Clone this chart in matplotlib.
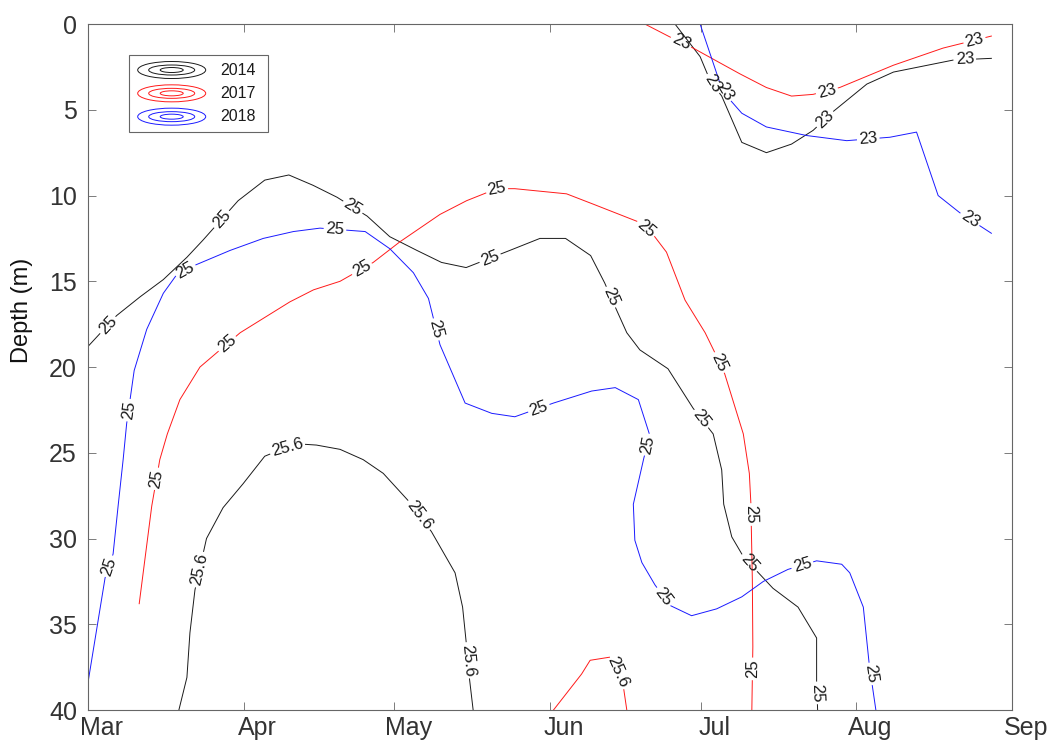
import numpy as np
import matplotlib
matplotlib.use('Agg')
import matplotlib.pyplot as plt
from matplotlib.patches import Ellipse, Rectangle
from matplotlib.transforms import ScaledTranslation

plt.rcParams['font.family'] = ['Liberation Sans', 'DejaVu Sans']

# x: days since 1 March, y: depth (m)
MONTHS = ['Mar', 'Apr', 'May', 'Jun', 'Jul', 'Aug', 'Sep']
MONTH_DAYS = [0, 31, 61, 92, 122, 153, 184]
DEPTH_TICKS = [0, 5, 10, 15, 20, 25, 30, 35, 40]

# ---- 2014 ------------------------------------------------------------
d14_25_day = [0, 5.7, 10.4, 15.0, 19.7, 22.9, 29.9, 35.2, 40.0, 44.8,
              49.6, 55.6, 60.1, 65.5, 70.4, 75.3, 84.0, 90.0, 95.1, 100.1,
              102.9, 105.3, 107.3, 109.9, 115.5, 120.5, 124.5, 126.2, 126.6,
              128.2, 130.4, 133.2, 136.4, 141.4, 145.1, 145.1, 145.3]
d14_25_dep = [18.8, 17.0, 15.9, 14.9, 13.6, 12.6, 10.3, 9.1, 8.8, 9.4,
              10.1, 11.2, 12.4, 13.2, 13.9, 14.2, 13.2, 12.5, 12.5, 13.5,
              15.1, 16.7, 18.0, 19.0, 20.1, 22.4, 23.9, 26.0, 28.0,
              29.9, 31.0, 31.9, 32.9, 34.0, 35.8, 38.4, 40.0]
d14_25_lab = [(3.4, 17.4), (26.3, 11.3), (52.8, 10.65), (80.0, 13.6),
              (104.3, 15.9), (122.2, 23.0), (131.8, 31.4), (145.3, 39.0)]

d14_256_day = [18.1, 19.7, 20.3, 21.3, 23.6, 26.9, 30.9, 35.2, 39.4, 42.9,
               45.5, 50.2, 54.8, 58.8, 63.8, 68.4, 73.1, 74.6, 75.3, 75.9,
               76.7]
d14_256_dep = [40.0, 38.1, 35.5, 33.0, 30.0, 28.2, 26.8, 25.2, 24.7, 24.5,
               24.55, 24.8, 25.4, 26.2, 27.8, 29.6, 32.0, 34.0, 36.0, 38.0,
               40.0]
d14_256_lab = [(22.0, 31.8), (39.6, 24.6), (66.1, 28.6), (75.7, 37.1)]

d14_23_day = [116.9, 121.9, 123.9, 126.2, 130.2, 135.1, 140.1, 144.4, 148.4,
              155.1, 160.4, 172.3, 179.9]
d14_23_dep = [0.0, 1.9, 3.3, 4.2, 6.9, 7.5, 7.0, 6.2, 5.1, 3.5, 2.8, 2.1, 2.0]
d14_23_lab = [(123.9, 3.6), (146.6, 5.5), (174.6, 2.06)]

# ---- 2017 ------------------------------------------------------------
d17_25_day = [10.2, 12.7, 14.3, 15.8, 18.3, 22.3, 30.3, 40.2, 44.9, 50.2,
              56.8, 62.1, 70.1, 75.4, 81.4, 85.0, 95.3, 100.6, 109.3, 112.6,
              115.2, 118.9, 122.9, 124.9, 126.8, 130.5, 131.7, 132.0, 132.3,
              132.4, 132.2]
d17_25_dep = [33.8, 28.1, 25.4, 23.9, 21.9, 20.0, 18.0, 16.2, 15.5, 15.0,
              13.9, 12.7, 11.1, 10.3, 9.6, 9.6, 9.9, 10.5, 11.5, 12.3,
              13.3, 16.1, 18.0, 19.2, 20.4, 23.9, 26.2, 27.9, 32.4,
              36.3, 40.0]
d17_25_lab = [(13.3, 26.5), (27.6, 18.6), (54.5, 14.25), (81.4, 9.6),
              (111.2, 11.9), (126.0, 19.7), (132.0, 28.6), (132.0, 37.6)]

d17_256_day = [92.7, 98.3, 100.0, 104.3, 106.6, 107.3]
d17_256_dep = [40.0, 37.9, 37.1, 36.9, 38.6, 40.0]
d17_256_lab = [(105.4, 37.8)]

d17_23_day = [110.9, 116.2, 120.5, 129.8, 135.1, 140.1, 144.4, 149.7, 160.4,
              170.3, 179.9]
d17_23_dep = [0.0, 0.8, 1.4, 2.9, 3.7, 4.2, 4.1, 3.7, 2.4, 1.4, 0.7]
d17_23_lab = [(118.2, 1.0), (147.1, 3.85), (176.5, 0.9)]

# ---- 2018 ------------------------------------------------------------
d18_25_day = [0.0, 3.4, 5.0, 6.0, 7.0, 7.7, 9.2, 11.7, 15.0, 17.7,
              21.0, 28.3, 34.9, 40.9, 46.2, 55.2, 60.1, 64.8, 67.8, 70.1,
              75.1, 80.4, 85.0, 92.7, 100.3, 105.0, 109.6, 111.9, 110.7, 108.6,
              108.9, 110.3, 112.9, 115.9, 120.2, 125.2, 130.2, 134.5, 139.4,
              145.1, 150.1, 151.7, 154.4, 155.6, 156.9]
d18_25_dep = [38.4, 32.3, 30.9, 28.1, 25.4, 23.3, 20.2, 17.8, 15.7, 14.6,
              14.1, 13.2, 12.5, 12.1, 11.9, 12.1, 13.1, 14.5, 16.0, 18.7,
              22.1, 22.7, 22.9, 22.1, 21.4, 21.2, 21.9, 24.0, 25.3, 28.0,
              30.1, 31.4, 32.7, 33.9, 34.5, 34.1, 33.4, 32.5, 31.8,
              31.3, 31.5, 32.0, 34.0, 37.4, 40.0]
d18_25_lab = [(4.0, 31.6), (7.7, 22.5), (19.3, 14.3), (49.2, 11.9),
              (69.4, 17.8), (89.9, 22.5), (111.1, 24.5), (114.6, 33.4),
              (142.1, 31.4), (155.7, 37.9)]

d18_23_day = [121.9, 125.8, 127.8, 130.2, 135.1, 143.1, 151.1, 159.7, 165.0,
              169.3, 173.6, 179.9]
d18_23_dep = [0.0, 3.4, 4.4, 5.2, 6.0, 6.5, 6.8, 6.6, 6.3, 10.0, 11.0, 12.2]
d18_23_lab = [(127.0, 3.9), (155.4, 6.76), (175.6, 11.4)]

C14 = '#1a1a1a'
C17 = '#ff1a1a'
C18 = '#1a1aff'
TXT = '#1a1a1a'


# ----------------------------------------------------------------------
# Draw one isoline with clabel-style inline labels: the line is broken
# where each label sits and the label follows the local direction.
def contour_line(ax, renderer, days, depths, text, label_at, color):
    pts = ax.transData.transform(np.column_stack([days, depths]))
    seg = np.diff(pts, axis=0)
    seglen = np.hypot(seg[:, 0], seg[:, 1])
    s = np.concatenate([[0.0], np.cumsum(seglen)])

    def point_at(si):
        return np.array([np.interp(si, s, pts[:, 0]),
                         np.interp(si, s, pts[:, 1])])

    cuts = []
    for lx, ly in label_at:
        p = ax.transData.transform((lx, ly))
        best = None
        for i in range(len(seg)):
            if seglen[i] == 0:
                continue
            t = np.clip(np.dot(p - pts[i], seg[i]) / seglen[i] ** 2, 0, 1)
            q = pts[i] + t * seg[i]
            d = np.hypot(*(p - q))
            if best is None or d < best[0]:
                best = (d, s[i] + t * seglen[i])
        s0 = best[1]
        txt = ax.text(0, 0, text, fontsize=12, color=TXT,
                      ha='center', va='center', rotation_mode='anchor')
        w = txt.get_window_extent(renderer).width
        hw = w / 2 + 2.5
        a = point_at(max(s0 - hw, 0))
        b = point_at(min(s0 + hw, s[-1]))
        ang = np.degrees(np.arctan2(b[1] - a[1], b[0] - a[0]))
        if ang > 90:
            ang -= 180
        elif ang <= -90:
            ang += 180
        txt.set_position(ax.transData.inverted().transform(point_at(s0)))
        txt.set_rotation(ang)
        cuts.append((s0 - hw, s0 + hw))

    cuts.sort()
    start = 0.0
    inv = ax.transData.inverted()
    for c0, c1 in cuts + [(s[-1], s[-1])]:
        if c0 > start:
            inner = (s > start) & (s < c0)
            piece = np.vstack([point_at(start)[None, :], pts[inner],
                               point_at(c0)[None, :]])
            xy = inv.transform(piece)
            ax.plot(xy[:, 0], xy[:, 1], color=color, lw=0.7,
                    solid_joinstyle='round')
        start = max(start, c1)


def legend_box(ax, entries):
    ax.add_patch(Rectangle((0.0444, 0.8426), 0.1504, 0.1122,
                           transform=ax.transAxes, fill=True, fc='white',
                           ec='#666666', lw=0.8, zorder=5))
    rows = [0.933, 0.899, 0.865]
    for (name, color), y in zip(entries, rows):
        for w, h in [(0.0736, 0.0248), (0.0498, 0.0146), (0.0249, 0.0073)]:
            ax.add_patch(Ellipse((0.0906, y), w, h, transform=ax.transAxes,
                                 fill=False, ec=color, lw=0.7, zorder=6))
        ax.text(0.1429, y, name, transform=ax.transAxes, fontsize=11.5,
                color=TXT, va='center', ha='left', zorder=6)


# ----------------------------------------------------------------------
fig = plt.figure(figsize=(10.55, 7.47), dpi=100)
ax = fig.add_axes([0.0834, 0.0495, 0.8758, 0.9183])
ax.set_xlim(MONTH_DAYS[0], MONTH_DAYS[-1])
ax.set_ylim(40, 0)

ax.set_xticks(MONTH_DAYS)
ax.set_xticklabels(MONTHS)
ax.set_yticks(DEPTH_TICKS)
ax.tick_params(which='both', direction='in', top=True, right=True,
               length=6, width=0.6, color='#666666',
               labelcolor='#333333', labelsize=18)
ax.tick_params(axis='x', pad=4)
ax.tick_params(axis='y', pad=8)
for sp in ax.spines.values():
    sp.set_color('#666666')
    sp.set_linewidth(0.8)

shift = ScaledTranslation(0.14, 0, fig.dpi_scale_trans)
for lbl in ax.get_xticklabels():
    lbl.set_transform(lbl.get_transform() + shift)

ax.set_ylabel('Depth (m)', fontsize=17, color='#111111')
ax.yaxis.set_label_coords(-0.0595, 0.583)

renderer = fig.canvas.get_renderer()
contour_line(ax, renderer, d14_25_day, d14_25_dep, '25', d14_25_lab, C14)
contour_line(ax, renderer, d14_256_day, d14_256_dep, '25.6', d14_256_lab, C14)
contour_line(ax, renderer, d14_23_day, d14_23_dep, '23', d14_23_lab, C14)
contour_line(ax, renderer, d17_25_day, d17_25_dep, '25', d17_25_lab, C17)
contour_line(ax, renderer, d17_256_day, d17_256_dep, '25.6', d17_256_lab, C17)
contour_line(ax, renderer, d17_23_day, d17_23_dep, '23', d17_23_lab, C17)
contour_line(ax, renderer, d18_25_day, d18_25_dep, '25', d18_25_lab, C18)
contour_line(ax, renderer, d18_23_day, d18_23_dep, '23', d18_23_lab, C18)

legend_box(ax, [('2014', C14), ('2017', C17), ('2018', C18)])

fig.savefig('out.png', dpi=100)
